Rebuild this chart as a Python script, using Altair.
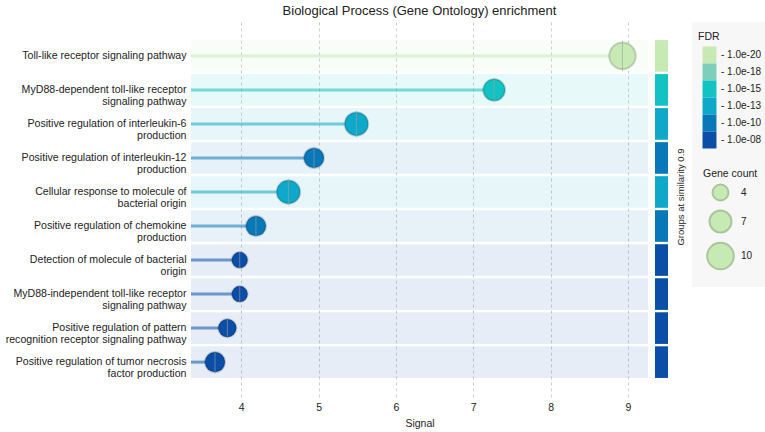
import altair as alt
import pandas as pd

# GO biological-process terms, top to bottom
terms = [
    "Toll-like receptor signaling pathway",
    "MyD88-dependent toll-like receptor\nsignaling pathway",
    "Positive regulation of interleukin-6\nproduction",
    "Positive regulation of interleukin-12\nproduction",
    "Cellular response to molecule of\nbacterial origin",
    "Positive regulation of chemokine\nproduction",
    "Detection of molecule of bacterial\norigin",
    "MyD88-independent toll-like receptor\nsignaling pathway",
    "Positive regulation of pattern\nrecognition receptor signaling pathway",
    "Positive regulation of tumor necrosis\nfactor production",
]
signal = [8.93, 7.27, 5.49, 4.94, 4.61, 4.19, 3.98, 3.98, 3.82, 3.66]
gene_count = [10, 7, 8, 6, 8, 6, 4, 4, 5, 6]
fdr = ["1.0e-20", "1.0e-15", "1.0e-13", "1.0e-10", "1.0e-13",
       "1.0e-10", "1.0e-08", "1.0e-08", "1.0e-08", "1.0e-08"]

fdr_levels = ["1.0e-20", "1.0e-18", "1.0e-15", "1.0e-13", "1.0e-10", "1.0e-08"]
fdr_colors = ["#c7e9b4", "#7fcdbb", "#13c2c2", "#0ea8c8", "#0878b8", "#0a4ea7"]

size_domain = [4, 10]
size_range = [254, 707]

W, H = 457, 376
FONT = "Liberation Sans"
# colour block for the FDR key: 14 x 17 px at symbol size 289
BLOCK = "M-0.82,-1H0.82V1H-0.82Z"

df = pd.DataFrame({"term": terms, "signal": signal, "count": gene_count, "fdr": fdr})

# diameter of each bubble, used for the dashed centre mark
slope = (size_range[1] - size_range[0]) / (size_domain[1] - size_domain[0])
diam_expr = f"2*sqrt(({size_range[0]} + (datum.count - {size_domain[0]})*{slope})/PI)"

y_enc = alt.Y(
    "term:N", sort=terms,
    scale=alt.Scale(paddingInner=0.07, paddingOuter=0.56),
    axis=alt.Axis(title=None, labelExpr="split(datum.label, '\\n')",
                  labelFontSize=10.6, labelLineHeight=12, labelPadding=5,
                  labelColor="#222", labelLimit=0, ticks=False, domain=False,
                  labelFont=FONT),
)
x_enc = alt.X(
    "signal:Q",
    scale=alt.Scale(domain=[3.35, 9.26], nice=False, zero=False),
    axis=alt.Axis(values=[4, 5, 6, 7, 8, 9], title="Signal", grid=True,
                  gridDash=[3, 3], gridColor="#cfcfcf", ticks=False, domain=False,
                  labelPadding=5, titlePadding=6, labelFontSize=10.5,
                  titleFontSize=10.5, titleFontWeight="normal", labelColor="#222",
                  titleColor="#222", labelFont=FONT, titleFont=FONT),
)
color_enc = alt.Color(
    "fdr:N",
    scale=alt.Scale(domain=fdr_levels, range=fdr_colors),
    legend=alt.Legend(
        title="FDR", orient="none", legendX=507, legendY=11, padding=0,
        symbolType=BLOCK, symbolSize=289, symbolStrokeWidth=0, symbolOpacity=1,
        rowPadding=0, symbolOffset=3, labelExpr="'- ' + datum.label",
        labelFontSize=10, labelOffset=3, labelColor="#222", titleFontSize=10.5,
        titleFontWeight="normal", titleColor="#222", titlePadding=4,
        labelFont=FONT, titleFont=FONT,
    ),
)
size_enc = alt.Size(
    "count:Q",
    scale=alt.Scale(domain=size_domain, range=size_range, zero=False),
    legend=alt.Legend(
        title="Gene count", orient="none", legendX=512, legendY=148, padding=0,
        values=[4, 7, 10], symbolFillColor="#c7e9b4", symbolStrokeColor="#a9c699",
        symbolStrokeWidth=2, symbolOpacity=1, rowPadding=2,
        symbolOffset=3, labelOffset=6, labelFontSize=10, labelColor="#222",
        titleFontSize=10.5, titleFontWeight="normal", titleColor="#222",
        titlePadding=4, labelFont=FONT, titleFont=FONT,
    ),
)

base = alt.Chart(df)

bands = base.mark_bar(opacity=0.1).encode(
    y=y_enc, x=alt.value(0), x2=alt.value(W), color=color_enc
)

groups = base.mark_bar().encode(
    y=y_enc, x=alt.value(464), x2=alt.value(477), color=color_enc
)

stems = base.mark_rule(strokeWidth=3, opacity=0.55).encode(
    y=y_enc, x=x_enc, x2=alt.value(0), color=color_enc
)

bubbles = base.mark_circle(opacity=1, stroke="black", strokeOpacity=0.15,
                           strokeWidth=2).encode(
    y=y_enc, x=x_enc, color=color_enc, size=size_enc
)

centre = base.transform_calculate(diam=diam_expr).mark_tick(
    orient="vertical", color="#a0a0a0", strokeDash=[2, 2], thickness=1, opacity=0.6
).encode(
    y=y_enc, x=x_enc,
    size=alt.Size("diam:Q", scale=alt.Scale(domain=[0, 100], range=[0, 100]),
                  legend=None),
)

panel = alt.Chart(pd.DataFrame({"k": [0]})).mark_rect(color="#f7f7f7").encode(
    x=alt.value(501), x2=alt.value(574), y=alt.value(1), y2=alt.value(266)
)

group_label = alt.Chart(pd.DataFrame({"t": ["Groups at similarity 0.9"]})).mark_text(
    angle=270, fontSize=9.5, font=FONT, color="#222", baseline="middle", align="center"
).encode(text="t:N", x=alt.value(490), y=alt.value(176))

chart = (
    alt.layer(bands, panel, groups, stems, bubbles, centre, group_label)
    .resolve_scale(size="independent")
    .properties(
        width=W, height=H,
        autosize=alt.AutoSizeParams(type="none"),
        padding={"left": 191, "top": 21, "right": 117, "bottom": 35},
        title=alt.TitleParams("Biological Process (Gene Ontology) enrichment",
                              fontSize=13, fontWeight="normal", font=FONT,
                              color="#222", anchor="middle", offset=3),
    )
    .configure_view(stroke=None)
)

chart.save("out.html", embed_options={"renderer": "svg", "actions": False})
